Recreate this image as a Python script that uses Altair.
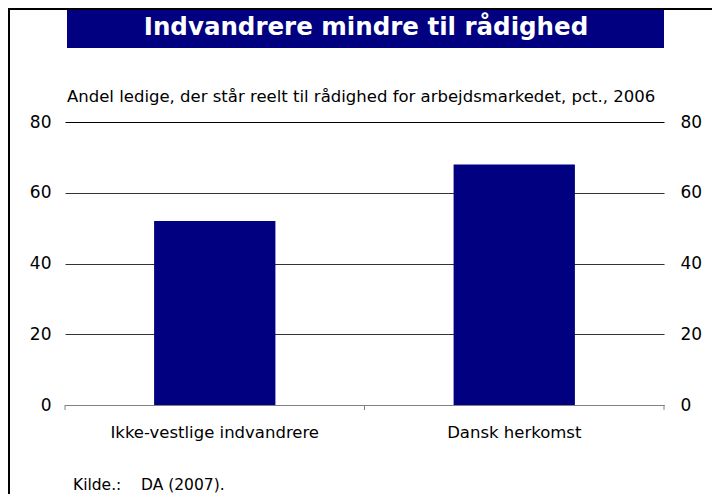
import altair as alt
import pandas as pd

# ---- data ----
categories = ["Ikke-vestlige indvandrere", "Dansk herkomst"]
values = [52, 68]
y_ticks = [0, 20, 40, 60, 80]
boundaries = [0, 1, 2]

title_text = "Indvandrere mindre til rådighed"
subtitle_text = "Andel ledige, der står reelt til rådighed for arbejdsmarkedet, pct., 2006"
source_label = "Kilde.:"
source_text = "DA (2007)."

# ---- style ----
W = 599
H = 283
PAD = {"left": 57, "top": 114, "right": 48, "bottom": 89}
FONT = "DejaVu Sans"
NAVY = "#000080"

df = pd.DataFrame({"cat": categories, "val": values})
xscale = alt.Scale(domain=categories, paddingInner=0, paddingOuter=0)
yscale = alt.Scale(domain=[0, 80], nice=False)

grid_color = {
    "condition": [
        {"test": "datum.value === 0", "value": "#808080"},
        {"test": "datum.value === 80", "value": "#000000"},
    ],
    "value": "#333333",
}

bars = alt.Chart(df).mark_bar(color=NAVY, width=alt.RelativeBandSize(0.405)).encode(
    x=alt.X("cat:N", scale=xscale, sort=categories,
            axis=alt.Axis(title=None, ticks=False, domain=True, domainColor="#808080",
                          labelFont=FONT, labelFontSize=16.5, labelColor="black",
                          labelPadding=19, labelAngle=0, labelLimit=500)),
    y=alt.Y("val:Q", scale=yscale,
            axis=alt.Axis(title=None, values=y_ticks, grid=True, gridColor=grid_color,
                          ticks=False, domain=False, labelFont=FONT, labelFontSize=17,
                          labelColor="black", labelPadding=14, orient="left")),
)

right = alt.Chart(df).mark_bar(opacity=0).encode(
    x=alt.X("cat:N", scale=xscale, sort=categories, axis=None),
    y=alt.Y("val:Q", scale=yscale,
            axis=alt.Axis(orient="right", title=None, values=y_ticks, grid=False,
                          ticks=False, domain=False, labelFont=FONT, labelFontSize=17,
                          labelColor="black", labelPadding=16)),
)

tick_df = pd.DataFrame({"b": boundaries})
xticks = alt.Chart(tick_df).mark_rule(color="#808080", strokeWidth=1).encode(
    x=alt.X("b:Q", scale=alt.Scale(domain=[0, 2], nice=False, zero=False), axis=None),
    y=alt.value(H),
    y2=alt.value(H + 5),
)

one = pd.DataFrame({"k": [0]})

banner = alt.Chart(one).mark_rect(color=NAVY).encode(
    x=alt.value(2), x2=alt.value(W), y=alt.value(-112), y2=alt.value(-74)
)
title = alt.Chart(one).mark_text(
    text=title_text, font=FONT, fontSize=24.5, fontWeight="bold", color="white",
    align="center", baseline="alphabetic"
).encode(x=alt.value(301), y=alt.value(-87))

subtitle = alt.Chart(one).mark_text(
    text=subtitle_text, font=FONT, fontSize=16.5, color="black",
    align="left", baseline="middle"
).encode(x=alt.value(2), y=alt.value(-25))

src1 = alt.Chart(one).mark_text(
    text=source_label, font=FONT, fontSize=15.5, color="black",
    align="left", baseline="alphabetic"
).encode(x=alt.value(8), y=alt.value(368))
src2 = alt.Chart(one).mark_text(
    text=source_text, font=FONT, fontSize=15.5, color="black",
    align="left", baseline="alphabetic"
).encode(x=alt.value(76), y=alt.value(368))

border_top = alt.Chart(one).mark_rule(color="black", strokeWidth=2).encode(
    x=alt.value(-PAD["left"]), x2=alt.value(W + PAD["right"]), y=alt.value(-PAD["top"] + 1)
)
border_left = alt.Chart(one).mark_rule(color="black", strokeWidth=2).encode(
    x=alt.value(-PAD["left"] + 1), y=alt.value(-PAD["top"]), y2=alt.value(H + PAD["bottom"])
)

chart = alt.layer(
    bars, right, xticks, banner, title, subtitle, src1, src2, border_top, border_left
).resolve_scale(x="independent", y="shared").resolve_axis(y="independent").properties(
    width=W, height=H,
    autosize=alt.AutoSizeParams(type="none"),
    padding=PAD,
).configure_view(stroke=None)

chart.save("out.html", embed_options={"renderer": "svg", "actions": False})
